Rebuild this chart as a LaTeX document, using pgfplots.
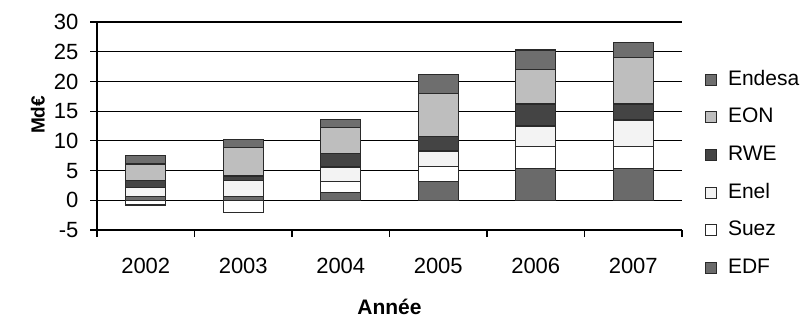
\documentclass[border=0pt]{standalone}
\usepackage{pgfplots}
\pgfplotsset{compat=1.18}
\usepackage{fontspec}
\setmainfont{Liberation Sans}
\definecolor{cEndesa}{HTML}{6E6E6E}
\definecolor{cEON}{HTML}{BEBEBE}
\definecolor{cRWE}{HTML}{444444}
\definecolor{cEnel}{HTML}{F3F3F3}
\definecolor{cSuez}{HTML}{FFFFFF}
\definecolor{cEDF}{HTML}{6A6A6A}
\definecolor{edge}{HTML}{2A2A2A}
\pgfplotsset{
  sq/.style={legend image code/.code={%
    \draw[##1,line width=0.8pt] (0pt,-5.5pt) rectangle (11pt,5.5pt);
    \path (22pt,0pt);}},
  common/.style={
    scale only axis, width=585pt, height=208pt,
    xmin=-0.5, xmax=5.5, ymin=-5, ymax=30,
    bar width=40pt,
  }
}
\begin{document}
\begin{tikzpicture}
\useasboundingbox (-97pt,-89pt) rectangle (713pt,230pt);
\begin{axis}[
  common,
  ybar stacked,
  axis lines=left,
  axis line style={-, line width=1.2pt, draw=black},
  ytick={-5,0,...,30},
  xtick={-0.5,0.5,...,5.5},
  xticklabels={2002,2003,2004,2005,2006,2007},
  x tick label as interval,
  tick align=outside, major tick length=7pt,
  tick style={black, line width=1.1pt},
  ymajorgrids, grid style={black, line width=1.1pt},
  /pgf/number format/assume math mode=true,
  tick label style={font=\fontsize{22}{26}\selectfont},
  yticklabel style={xshift=-8pt},
  xticklabel style={yshift=-18pt},
  xlabel={Année},
  xlabel style={font=\fontsize{21}{25}\selectfont\bfseries, at={(axis description cs:0.5,-0.37)}, anchor=center, text depth=0pt},
  ylabel={Md€},
  ylabel style={font=\fontsize{19}{22}\selectfont\bfseries, at={(axis description cs:-0.101,0.553)}, anchor=center},
  legend style={at={(axis description cs:1.039,0.77)}, anchor=north west, draw=none, fill=none,
    inner sep=0pt, row sep=18.7pt,
    font=\fontsize{21}{25}\selectfont,
    nodes={inner sep=0pt, text height=15pt, text depth=4pt}},
  legend cell align=left,
  reverse legend,
]
\addplot[sq, draw=edge, line width=1.2pt, fill=cEDF] coordinates {(0,0.6) (1,0.7) (2,1.25) (3,3.1) (4,5.35) (5,5.35)};
\addplot[sq, draw=edge, line width=1.2pt, fill=cSuez] coordinates {(0,0) (1,0) (2,1.85) (3,2.6) (4,3.65) (5,3.75)};
\addplot[sq, draw=edge, line width=1.2pt, fill=cEnel] coordinates {(0,1.6) (1,2.6) (2,2.5) (3,2.6) (4,3.5) (5,4.4)};
\addplot[sq, draw=edge, line width=1.2pt, fill=cRWE] coordinates {(0,1.1) (1,0.8) (2,2.3) (3,2.4) (4,3.7) (5,2.7)};
\addplot[sq, draw=edge, line width=1.2pt, fill=cEON] coordinates {(0,2.8) (1,4.85) (2,4.3) (3,7.3) (4,5.8) (5,7.8)};
\addplot[sq, draw=edge, line width=1.2pt, fill=cEndesa] coordinates {(0,1.5) (1,1.3) (2,1.4) (3,3.2) (4,3.3) (5,2.6)};
\legend{EDF,Suez,Enel,RWE,EON,Endesa}
\end{axis}
\begin{axis}[
  common,
  ybar,
  hide axis,
]
\addplot[draw=edge, line width=1.2pt, fill=cSuez] coordinates {(0,-0.8) (1,-2.0)};
\end{axis}
\end{tikzpicture}
\end{document}
